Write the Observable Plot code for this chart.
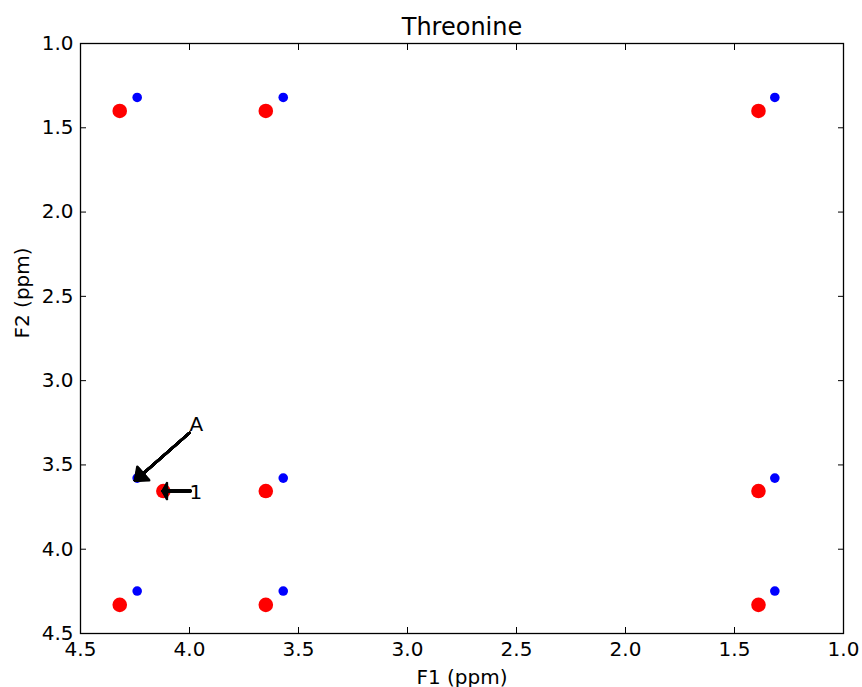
<!DOCTYPE html>
<html>
<head>
<meta charset="utf-8">
<script src="https://cdn.jsdelivr.net/npm/d3@7"></script>
<script src="https://cdn.jsdelivr.net/npm/@observablehq/plot@0.6"></script>
<style>
  html, body { margin: 0; padding: 0; background: #ffffff; }
  #chart svg { display: block; }
</style>
</head>
<body>
<div id="chart"></div>
<script>
// ---- data ----
const title = "Threonine";
const xLabel = "F1 (ppm)";
const yLabel = "F2 (ppm)";
const xTicks = [4.5, 4.0, 3.5, 3.0, 2.5, 2.0, 1.5, 1.0];
const yTicks = [1.0, 1.5, 2.0, 2.5, 3.0, 3.5, 4.0, 4.5];

// red peaks (F1, F2)
const redF1 = [4.32, 3.65, 1.39, 4.12, 3.65, 1.39, 4.32, 3.65, 1.39];
const redF2 = [1.40, 1.40, 1.40, 3.655, 3.655, 3.655, 4.33, 4.33, 4.33];
// blue peaks (F1, F2)
const blueF1 = [4.24, 3.57, 1.315, 4.24, 3.57, 1.315, 4.24, 3.57, 1.315];
const blueF2 = [1.32, 1.32, 1.32, 3.578, 3.578, 3.578, 4.248, 4.248, 4.248];

// annotations
const annotLabels = ["A", "1"];
const annotTextX = [4.0, 4.0];
const annotTextY = [3.3, 3.7];
const arrowFromX = [4.0, 3.995];
const arrowFromY = [3.31, 3.655];
const arrowToX = [4.25, 4.123];
const arrowToY = [3.594, 3.655];

// ---- tables ----
const red = redF1.map((x, i) => ({x, y: redF2[i]}));
const blue = blueF1.map((x, i) => ({x, y: blueF2[i]}));
const annots = annotLabels.map((label, i) => ({
  label, tx: annotTextX[i], ty: annotTextY[i],
  x1: arrowFromX[i], y1: arrowFromY[i], x2: arrowToX[i], y2: arrowToY[i]
}));

const font = "DejaVu Sans, sans-serif";
const blank = () => "";

// filled triangular arrow head, approximated by a fan of Plot.arrow wings
function fan(data, headBack, halfWidth, sw) {
  const thetaMax = Math.atan(halfWidth / headBack);
  const n = 14;
  const marks = [];
  for (let k = 0; k <= n; k++) {
    const th = thetaMax * k / n;
    const L = headBack / Math.cos(th);
    marks.push(Plot.arrow(data, {
      x1: "x1", y1: "y1", x2: "x2", y2: "y2",
      stroke: "black", strokeWidth: sw, bend: 0,
      headAngle: Math.max(0.5, 2 * th * 180 / Math.PI),
      headLength: L * 1.5 / sw
    }));
  }
  return marks;
}

const chart = Plot.plot({
  width: 862,
  height: 687,
  marginLeft: 80,
  marginRight: 19,
  marginTop: 43,
  marginBottom: 54,
  style: {fontFamily: font, fontSize: "20px", background: "white", color: "black", overflow: "visible"},
  x: {domain: [4.5, 1.0]},
  y: {domain: [1.0, 4.5], reverse: true},
  marks: [
    // tick labels
    Plot.axisX(xTicks, {anchor: "bottom", tickSize: 0, tickPadding: 8, tickFormat: d => d.toFixed(1), label: null, fill: "black"}),
    Plot.axisY(yTicks, {anchor: "left", tickSize: 0, tickPadding: 7, tickFormat: d => d.toFixed(1), label: null, fill: "black"}),
    // inward ticks on all four sides (no labels)
    Plot.axisX(xTicks, {anchor: "bottom", tickSize: 6, dy: -6, tickFormat: blank, label: null, stroke: "black"}),
    Plot.axisX(xTicks, {anchor: "top", tickSize: 6, dy: 6, tickFormat: blank, label: null, stroke: "black"}),
    Plot.axisY(yTicks, {anchor: "left", tickSize: 6, dx: 6, tickFormat: blank, label: null, stroke: "black"}),
    Plot.axisY(yTicks, {anchor: "right", tickSize: 6, dx: -6, tickFormat: blank, label: null, stroke: "black"}),
    // peaks
    Plot.dot(red, {x: "x", y: "y", r: 7.3, fill: "#ff0000", stroke: null}),
    Plot.dot(blue, {x: "x", y: "y", r: 4.8, fill: "#0000ff", stroke: null}),
    // annotation arrows
    ...fan(annots.filter(d => d.label === "A"), 11, 9, 2.5),
    ...fan(annots.filter(d => d.label === "1"), 4.3, 8, 2.5),
    // annotation labels
    Plot.text(annots, {x: "tx", y: "ty", text: "label", textAnchor: "start", lineAnchor: "bottom", fontSize: 20, fill: "black"}),
    // frame
    Plot.frame({stroke: "black", strokeWidth: 1.3}),
    // title and axis labels
    Plot.text([title], {frameAnchor: "top", text: d => d, lineAnchor: "bottom", dy: -9, fontSize: 24, fill: "black"}),
    Plot.text([xLabel], {frameAnchor: "bottom", text: d => d, lineAnchor: "bottom", dy: 50, fontSize: 20, fill: "black"}),
    Plot.text([yLabel], {frameAnchor: "left", text: d => d, lineAnchor: "bottom", rotate: -90, dx: -52, fontSize: 20, fill: "black"})
  ]
});
document.getElementById("chart").appendChild(chart);
</script>
</body>
</html>
